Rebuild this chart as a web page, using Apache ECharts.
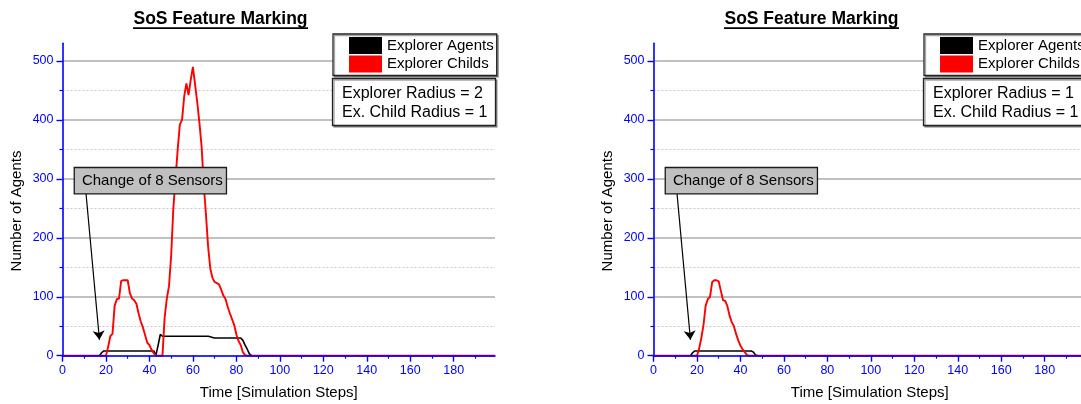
<!DOCTYPE html>
<html>
<head>
<meta charset="utf-8">
<title>SoS Feature Marking</title>
<script src="https://cdn.jsdelivr.net/npm/echarts@6/dist/echarts.min.js"></script>
<style>
  html, body { margin: 0; padding: 0; background: #ffffff; }
  #chart { width: 1081px; height: 404px; }
</style>
</head>
<body>
<div id="chart"></div>
<script>
// ---- labels and tick values ----
const panelTitle = 'SoS Feature Marking';
const seriesNames = ['Explorer Agents', 'Explorer Childs'];
const xAxisTitle = 'Time [Simulation Steps]';
const yAxisTitle = 'Number of Agents';
const radiusNotes = [
  'Explorer Radius = 2\nEx. Child Radius = 1',
  'Explorer Radius = 1\nEx. Child Radius = 1'
];
const annotationText = 'Change of 8 Sensors';

const xMajorTicks = [0, 20, 40, 60, 80, 100, 120, 140, 160, 180];
const xMinorTicks = [10, 30, 50, 70, 90, 110, 130, 150, 170, 190];
const yMajorTicks = [0, 100, 200, 300, 400, 500];
const yMinorTicks = [50, 150, 250, 350, 450];
const xRange = [0, 199];
const yRange = [0, 530];

// annotation: box anchor and arrow (data coordinates: step, agents)
const noteBoxAnchor = [5.7, 297];
const noteArrowFrom = [10.8, 276];
const noteArrowTo = [17, 27];

// ---- explorer radius 2 ----
const agentsR2Steps  = [0, 17, 18, 19, 42, 43, 44, 45, 46, 67, 68, 69, 70, 82, 83, 84, 85, 86, 87, 199];
const agentsR2Counts = [0,  0,  5,  8,  8,  1, 18, 36, 33, 33, 32, 31, 30, 30, 26, 18, 11,  3,  0,   0];

const childsR2Steps  = [0, 20, 21, 22, 23, 24, 25, 26, 27, 28, 29, 30, 31, 32, 33, 34, 35, 36, 37, 38, 39, 40, 41, 42, 43,
                        46, 47, 48, 49, 50, 51, 52, 53, 54, 55, 56, 57, 58, 59, 60, 61, 62, 63, 64, 65, 66, 67, 68, 69, 70,
                        71, 72, 73, 74, 75, 76, 77, 78, 79, 80, 81, 82, 83, 84, 85, 199];
const childsR2Counts = [0,  0, 15, 33, 37, 85, 96, 97, 127, 128, 128, 128, 106, 97, 94, 88, 72, 58, 48, 35, 22, 18, 10, 4, 0,
                        0, 65, 97, 118, 170, 250, 300, 350, 392, 400, 440, 462, 442, 468, 490, 460, 430, 395, 355, 290, 240, 185, 148, 132, 125,
                        123, 121, 112, 102, 96, 83, 72, 62, 52, 36, 25, 18, 6, 1, 0, 0];

// ---- explorer radius 1 ----
const agentsR1Steps  = [0, 17, 18, 19, 45, 46, 47, 48, 199];
const agentsR1Counts = [0,  0,  5,  8,  8,  6,  1,  0,   0];

const childsR1Steps  = [0, 20, 21, 22, 23, 24, 25, 26, 27, 28, 29, 30, 31, 32, 33, 34, 35, 36, 37, 38, 39, 40, 41, 42, 43, 44, 199];
const childsR1Counts = [0,  0, 12, 30, 52, 85, 96, 100, 125, 128, 128, 126, 110, 94, 93, 84, 68, 57, 50, 37, 26, 17, 11, 6, 1, 0, 0];

// ---- styling ----
const FONT = '"Liberation Sans", Arial, Helvetica, sans-serif';
const AXIS_BLUE = '#0000ff';
const PANEL_SHIFT = 591;

const panels = [
  { agents: [agentsR2Steps, agentsR2Counts], childs: [childsR2Steps, childsR2Counts], note: radiusNotes[0] },
  { agents: [agentsR1Steps, agentsR1Counts], childs: [childsR1Steps, childsR1Counts], note: radiusNotes[1] }
];

function pairs(steps, counts) {
  return steps.map((s, k) => [s, counts[k]]);
}

const grids = [], xAxes = [], yAxes = [], series = [], legends = [], titles = [], graphics = [];

panels.forEach((p, i) => {
  const dx = i * PANEL_SHIFT;
  grids.push({ left: 62.5 + dx, top: 43.3, width: 432.5, height: 312.4, containLabel: false, outerBoundsMode: 'none' });

  // major x axis: line, long ticks, labels, name
  xAxes.push({
    type: 'value', gridIndex: i, position: 'bottom', min: xRange[0], max: xRange[1], z: 5,
    axisLine: { show: true, onZero: false, lineStyle: { color: AXIS_BLUE, width: 1.6 } },
    axisTick: { show: true, inside: false, length: 6, customValues: xMajorTicks, lineStyle: { color: AXIS_BLUE, width: 1.4 } },
    axisLabel: { show: true, customValues: xMajorTicks, margin: 8, color: AXIS_BLUE, fontSize: 12.5, fontFamily: FONT },
    splitLine: { show: false },
    name: xAxisTitle, nameLocation: 'middle', nameGap: 30,
    nameTextStyle: { color: '#000', fontSize: 15, fontFamily: FONT }
  });
  // minor x ticks
  xAxes.push({
    type: 'value', gridIndex: i, position: 'bottom', offset: 0, min: xRange[0], max: xRange[1], z: 5,
    axisLine: { show: false },
    axisTick: { show: true, inside: false, length: 3, customValues: xMinorTicks, lineStyle: { color: AXIS_BLUE, width: 1.2 } },
    axisLabel: { show: false },
    splitLine: { show: false }
  });

  // major y axis with solid grid lines
  yAxes.push({
    type: 'value', gridIndex: i, position: 'left', min: yRange[0], max: yRange[1],
    axisLine: { show: true, onZero: false, lineStyle: { color: AXIS_BLUE, width: 1.6 } },
    axisTick: { show: true, inside: false, length: 6, customValues: yMajorTicks, lineStyle: { color: AXIS_BLUE, width: 1.4 } },
    axisLabel: { show: true, customValues: yMajorTicks, margin: 9, color: AXIS_BLUE, fontSize: 12.5, fontFamily: FONT },
    splitLine: { show: true, lineStyle: { color: '#adadad', width: 1.5, type: 'solid' } },
    name: yAxisTitle, nameLocation: 'middle', nameGap: 38, nameRotate: 90,
    nameTextStyle: { color: '#000', fontSize: 15, fontFamily: FONT, padding: [0, 23, 0, 0] }
  });
  // minor y ticks with dotted grid lines
  yAxes.push({
    type: 'value', gridIndex: i, position: 'left', offset: 0, min: yRange[0], max: yRange[1],
    axisLine: { show: false },
    axisTick: { show: true, inside: false, length: 3, customValues: yMinorTicks, lineStyle: { color: AXIS_BLUE, width: 1.2 } },
    axisLabel: { show: false },
    splitLine: { show: true, lineStyle: { color: '#c8c8c8', width: 1, type: [2, 2] } }
  });

  series.push({
    type: 'line', name: seriesNames[0], xAxisIndex: i * 2, yAxisIndex: i * 2,
    data: pairs(p.agents[0], p.agents[1]),
    showSymbol: false, symbol: 'none', animation: false, z: 3,
    lineStyle: { color: '#000000', width: 1.6 }, itemStyle: { color: '#000000' },
    markLine: {
      silent: true, animation: false, symbol: ['none', 'arrow'], symbolSize: 9,
      lineStyle: { color: '#000000', width: 1.2, type: 'solid' },
      itemStyle: { color: '#000000' },
      label: { show: false },
      data: [[{ coord: noteArrowFrom }, { coord: noteArrowTo }]]
    },
    markPoint: {
      silent: true, animation: false, symbol: 'rect', symbolSize: 0,
      label: {
        show: true, position: 'right', distance: 0, formatter: annotationText,
        color: '#000000', fontSize: 15, fontFamily: FONT,
        backgroundColor: '#c0c0c0', borderColor: '#1a1a1a', borderWidth: 1.3,
        padding: [5, 3, 5, 7]
      },
      data: [{ coord: noteBoxAnchor }]
    }
  });
  series.push({
    type: 'line', name: seriesNames[1], xAxisIndex: i * 2, yAxisIndex: i * 2,
    data: pairs(p.childs[0], p.childs[1]),
    showSymbol: false, symbol: 'none', animation: false, z: 4,
    lineStyle: { color: '#ff0000', width: 1.9 }, itemStyle: { color: '#ff0000' }
  });

  legends.push({
    data: seriesNames, orient: 'vertical', left: 333 + dx, top: 34,
    icon: 'rect', itemWidth: 33, itemHeight: 17, itemGap: 1.5,
    padding: [3, 3, 3, 16], backgroundColor: '#ffffff',
    borderColor: '#222222', borderWidth: 1.3,
    shadowColor: 'rgba(0,0,0,0.35)', shadowOffsetX: 1.5, shadowOffsetY: 1.5, shadowBlur: 0,
    selectedMode: false,
    textStyle: { fontSize: 15, color: '#000000', fontFamily: FONT, padding: [3, 0, 0, 0] }
  });

  titles.push({
    text: p.note, left: 332 + dx, top: 78,
    padding: [6, 8, 4, 10], backgroundColor: '#ffffff',
    borderColor: '#222222', borderWidth: 1.3,
    shadowColor: 'rgba(0,0,0,0.35)', shadowOffsetX: 1.5, shadowOffsetY: 1.5, shadowBlur: 0,
    textStyle: { fontSize: 16, fontWeight: 'normal', lineHeight: 19, color: '#000000', fontFamily: FONT }
  });

  graphics.push({
    type: 'text', x: 220.5 + dx, y: 10, z: 10,
    style: { text: panelTitle, font: 'bold 17.5px ' + FONT, fill: '#000000', align: 'center', verticalAlign: 'top' }
  });
  graphics.push({
    type: 'rect', z: 10,
    shape: { x: 133 + dx, y: 27.3, width: 175, height: 1.7 },
    style: { fill: '#000000' }
  });
});

const chart = echarts.init(document.getElementById('chart'), null, { renderer: 'canvas' });
chart.setOption({
  animation: false,
  backgroundColor: '#ffffff',
  grid: grids,
  xAxis: xAxes,
  yAxis: yAxes,
  series: series,
  legend: legends,
  title: titles,
  graphic: graphics
});
</script>
</body>
</html>
